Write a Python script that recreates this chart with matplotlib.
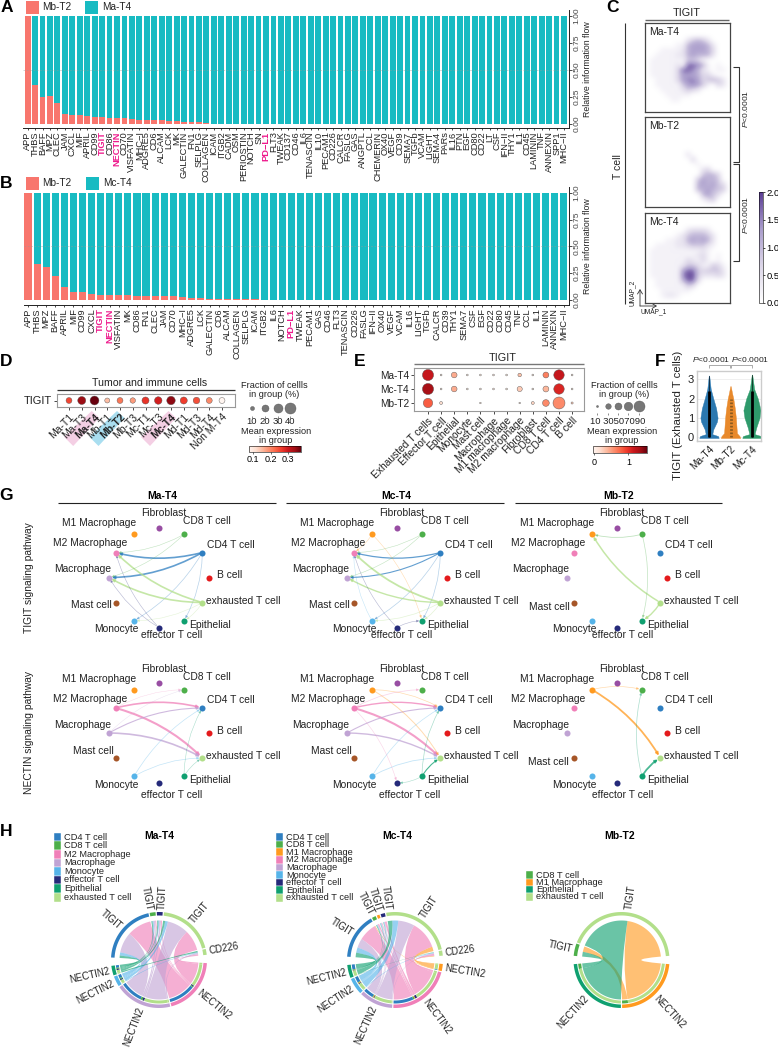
import numpy as np
import matplotlib
matplotlib.use("Agg")
import matplotlib.pyplot as plt
from matplotlib.colors import LinearSegmentedColormap, Normalize
from matplotlib.colorbar import Colorbar
from matplotlib.patches import FancyArrowPatch, PathPatch, Polygon, Rectangle
from matplotlib.path import Path

plt.rcParams['font.family'] = ['Liberation Sans', 'DejaVu Sans']
plt.rcParams['mathtext.fontset'] = 'custom'
plt.rcParams['mathtext.rm'] = 'Liberation Sans'
plt.rcParams['mathtext.it'] = 'Liberation Sans:italic'
plt.rcParams['mathtext.bf'] = 'Liberation Sans:bold'

W, H = 778, 1049

# ---- panel A / B data
a_labels = ['APP', 'THBS', 'BAFF', 'MPZ', 'CLEC', 'JAM', 'CXCL', 'MIF', 'APRIL', 'CD99', 'TIGIT', 'CD86',
            'NECTIN', 'CD70', 'VISFATIN', 'MHC−I', 'ADGRE5', 'CD6', 'ALCAM', 'LCK', 'MK', 'GALECTIN', 'FN1',
            'SELPLG', 'COLLAGEN', 'ICAM', 'ITGB2', 'CADM', 'OSM', 'PERIOSTIN', 'NOTCH', 'SN', 'PD−L1', 'FLT3',
            'TWEAK', 'CD137', 'CD46', 'IL6', 'TENASCIN', 'IL10', 'PECAM1', 'CD226', 'CALCR', 'FASLG', 'GAS',
            'ANGPTL', 'CCL', 'CHEMERIN', 'OX40', 'VEGF', 'CD39', 'SEMA7', 'TGFb', 'VCAM', 'LIGHT', 'SEMA4',
            'PARs', 'IL16', 'PTN', 'EGF', 'CD80', 'CD22', 'LT', 'CSF', 'IFN−II', 'THY1', 'IL1', 'CD45',
            'LAMININ', 'TNF', 'ANNEXIN', 'SPP1', 'MHC−II']
a_mb = [1.0, .36, .25, .26, .19, .09, .085, .08, .075, .065, .063, .06, .06, .058, .045, .04, .037, .035,
        .033, .03, .027, .02, .02, .015, .005, .004, .003, 0, 0, 0, 0, 0, 0, 0, 0, 0, 0, 0, 0, 0, 0, 0, 0,
        0, 0, 0, 0, 0, 0, 0, 0, 0, 0, 0, 0, 0, 0, 0, 0, 0, 0, 0, 0, 0, 0, 0, 0, 0, 0, 0, 0, 0, 0]

b_labels = ['APP', 'THBS', 'MPZ', 'BAFF', 'APRIL', 'MIF', 'CD99', 'CXCL', 'TIGIT', 'NECTIN', 'VISFATIN', 'MK',
            'CD86', 'FN1', 'CLEC', 'JAM', 'CD70', 'MHC−I', 'ADGRE5', 'LCK', 'GALECTIN', 'CD6', 'ALCAM',
            'COLLAGEN', 'SELPLG', 'ICAM', 'ITGB2', 'IL6', 'NOTCH', 'PD−L1', 'TWEAK', 'PECAM1', 'GAS', 'CD46',
            'FLT3', 'TENASCIN', 'CD226', 'FASLG', 'IFN−II', 'OX40', 'VEGF', 'VCAM', 'IL16', 'LIGHT', 'TGFb',
            'CALCR', 'CD39', 'THY1', 'SEMA7', 'CSF', 'EGF', 'CD22', 'CD80', 'CD45', 'TNF', 'CCL', 'IL1',
            'LAMININ', 'ANNEXIN', 'MHC−II']
b_mb = [1.0, .335, .305, .225, .12, .075, .078, .06, .047, .045, .042, .042, .04, .04, .04, .04, .038, .024,
        .022, .018, .013, .012, .012, .008, .007, .006, .004, 0, 0, 0, 0, 0, 0, 0, 0, 0, 0, 0, 0, 0, 0, 0,
        0, 0, 0, 0, 0, 0, 0, 0, 0, 0, 0, 0, 0, 0, 0, 0, 0, 0]

pink_labels = ['TIGIT', 'NECTIN', 'PD−L1']

# ---- panel C expression grids (hand read, 0-9 per cell)
umap_ma = ['00000000000000000', '00000000000000000', '00000000000000000', '00000000245420000',
           '00000011566652000', '00011112566653000', '00111122565552000', '01111111443100000',
           '01111121887510100', '01111138875210110', '01111136665331000', '00111136776345420',
           '00111114676410320', '00011112432000000', '00001111100000000', '00000110000000000',
           '00000000000000000', '00000000000000000']
umap_mb = ['00000000000000000', '00000000000000000', '00000000000000000', '00000000000000000',
           '00000000000000000', '00000000000000000', '00000000000000000', '00000000200000000',
           '00000000030000000', '00000000001000000', '00000000000230000', '00000000000455300',
           '00000000004655400', '00000000005656430', '00000000005565440', '00000000000564300',
           '00000000000134000', '00000000000000000']
umap_mc = ['00000000000000000', '00000000000000000', '00000000000000000', '00000000233320000',
           '00000012455542000', '00001122565652000', '00111122344421000', '01111111111210000',
           '01111111112310100', '01111111321310100', '01111112443114310', '01111116884344420',
           '01111117994222320', '00111115883000000', '00111111430000000', '00011111100000000',
           '00012210000000000', '00000000000000000']

# ---- panel D data
d_groups = ['Ma-T1', 'Ma-T3', 'Ma-T4', 'Mb-T1', 'Mb-T2', 'Mb-T3', 'Mc-T1', 'Mc-T3', 'Mc-T4', 'Md-T1', 'Md-T3',
            'Md-T4', 'Non M-T4']
d_fraction = [17, 26, 30, 13, 17, 15, 22, 24, 28, 22, 20, 17, 17]
d_mean = [.22, .33, .37, .09, .17, .13, .24, .27, .34, .23, .21, .15, .0]

# ---- panel E data
e_cells = ['Exhausted T cells', 'Effector T cell', 'Epithelial', 'Monocyte', 'Mast cell', 'Macrophage',
           'M1 macrophage', 'M2 macrophage', 'Fibroblast', 'CD8 T cell', 'CD4 T cell', 'B cell']
e_groups = ['Ma-T4', 'Mc-T4', 'Mb-T2']
e_fraction = [[92, 3, 40, 3, 3, 3, 3, 20, 3, 42, 85, 3],
              [92, 3, 40, 3, 3, 3, 3, 35, 3, 42, 85, 3],
              [75, 14, 0, 0, 1, 0, 0, 1, 14, 50, 100, 6]]
e_mean = [[1.15, .1, .45, .1, .1, .1, .1, .35, .1, .65, 1.15, .1],
          [1.3, .1, .45, .1, .1, .1, .1, .3, .1, .4, 1.05, .1],
          [.8, .2, 0, 0, .1, 0, 0, .1, .25, .6, .6, .3]]

# ---- panel F violin outlines: value, half width
f_groups = ['Ma-T4', 'Mb-T2', 'Mc-T4']
f_levels = [[-.05, .05, .15, .4, .8, 1.0, 1.5, 2.0, 2.5, 3.2],
            [-.05, .05, .2, .5, 1.0, 1.5, 2.0, 2.3, 2.65],
            [-.05, .05, .15, .5, 1.0, 1.4, 2.0, 2.5, 3.25]]
f_widths = [[.45, .42, .15, .2, .37, .4, .33, .2, .08, .01],
            [.45, .42, .3, .28, .25, .2, .13, .07, .01],
            [.45, .42, .12, .2, .35, .4, .27, .1, .01]]
f_colors = ['#2b78b0', '#e8892b', '#2e9a6b']
f_core_top = [3.2, 0, 3.25]

# ---- cell colours
cell_colors = {'CD4 T cell': '#2f7fc1', 'CD8 T cell': '#4daf4a', 'M1 Macrophage': '#ff9a1f',
               'M2 Macrophage': '#f07fb8', 'Macrophage': '#c0a3d4', 'Monocyte': '#56b4e9',
               'effector T cell': '#252a7a', 'Epithelial': '#0fa070', 'exhausted T cell': '#b2df8a',
               'Fibroblast': '#984ea3', 'Mast cell': '#a65628', 'B cell': '#e41a1c'}

# ---- panel G
node_angle = {'Fibroblast': 90, 'CD8 T cell': 60, 'CD4 T cell': 30, 'B cell': 0, 'exhausted T cell': -30,
              'Epithelial': -60, 'effector T cell': -90, 'Monocyte': -120, 'Mast cell': -150, 'Macrophage': 180,
              'M2 Macrophage': 150, 'M1 Macrophage': 120}
node_label_offset = {'Fibroblast': (5, -64), 'CD8 T cell': (48, -56), 'CD4 T cell': (72, -33), 'B cell': (71, -2),
                     'exhausted T cell': (84, 23), 'Epithelial': (51, 47), 'effector T cell': (13, 58),
                     'Monocyte': (-43, 52), 'Mast cell': (-68, 27), 'Macrophage': (-76, -8),
                     'M2 Macrophage': (-69, -34), 'M1 Macrophage': (-60, -54)}
g_columns = [159, 397, 617]
g_rows = [577.5, 733]
tigit_ma = [('CD4 T cell', 'M2 Macrophage', 1.2), ('CD4 T cell', 'Macrophage', 1.2), ('CD4 T cell', 'Monocyte', .5),
            ('CD4 T cell', 'Epithelial', .5), ('exhausted T cell', 'M2 Macrophage', 1.2),
            ('exhausted T cell', 'Macrophage', 1.2), ('exhausted T cell', 'Monocyte', .4),
            ('exhausted T cell', 'Epithelial', .4), ('CD8 T cell', 'M2 Macrophage', .4),
            ('CD8 T cell', 'Macrophage', .4), ('effector T cell', 'M2 Macrophage', .4),
            ('effector T cell', 'Macrophage', .4)]
tigit_mc = [('CD4 T cell', 'M2 Macrophage', .9), ('CD4 T cell', 'Macrophage', .8), ('CD4 T cell', 'Monocyte', .5),
            ('CD4 T cell', 'Epithelial', .5), ('exhausted T cell', 'M2 Macrophage', 1.3),
            ('exhausted T cell', 'Macrophage', 1.0), ('exhausted T cell', 'Monocyte', .5),
            ('exhausted T cell', 'Epithelial', .5), ('CD8 T cell', 'M2 Macrophage', .4),
            ('CD8 T cell', 'Macrophage', .4), ('M1 Macrophage', 'M2 Macrophage', .4),
            ('M1 Macrophage', 'Epithelial', .4), ('effector T cell', 'M2 Macrophage', .4),
            ('effector T cell', 'Epithelial', .4), ('Monocyte', 'M2 Macrophage', .4)]
tigit_mb = [('exhausted T cell', 'M1 Macrophage', 1.1), ('CD8 T cell', 'M1 Macrophage', .6),
            ('CD8 T cell', 'Epithelial', .5), ('exhausted T cell', 'Epithelial', 1.0)]
nectin_ma = [('M2 Macrophage', 'CD4 T cell', 1.2), ('M2 Macrophage', 'exhausted T cell', 1.5),
             ('Macrophage', 'CD4 T cell', .8), ('Macrophage', 'exhausted T cell', 1.2),
             ('Monocyte', 'CD4 T cell', .5), ('Monocyte', 'exhausted T cell', .5),
             ('Epithelial', 'CD4 T cell', .4), ('Epithelial', 'exhausted T cell', .4),
             ('M2 Macrophage', 'CD8 T cell', .3), ('Macrophage', 'CD8 T cell', .3)]
nectin_mc = [('M2 Macrophage', 'CD4 T cell', 1.0), ('M2 Macrophage', 'exhausted T cell', 1.5),
             ('Macrophage', 'CD4 T cell', .8), ('Macrophage', 'exhausted T cell', 1.0),
             ('Monocyte', 'CD4 T cell', .5), ('Monocyte', 'exhausted T cell', .6),
             ('Epithelial', 'CD4 T cell', .5), ('Epithelial', 'exhausted T cell', .8),
             ('M1 Macrophage', 'CD4 T cell', .5), ('M1 Macrophage', 'exhausted T cell', .7),
             ('M2 Macrophage', 'CD8 T cell', .5), ('M2 Macrophage', 'effector T cell', .4),
             ('Epithelial', 'effector T cell', .4)]
nectin_mb = [('M1 Macrophage', 'exhausted T cell', 1.3), ('M1 Macrophage', 'CD8 T cell', .5),
             ('Epithelial', 'exhausted T cell', 1.3), ('Epithelial', 'CD8 T cell', .5)]

# ---- panel H: sector label, sector cell; links sender -> receiver, weight
ma_sector_labels = ['TIGIT', 'TIGIT', 'TIGIT', 'TIGIT', 'CD226', 'NECTIN2', 'NECTIN2', 'NECTIN2', 'NECTIN2']
ma_sector_cells = ['CD4 T cell', 'CD8 T cell', 'effector T cell', 'exhausted T cell', 'exhausted T cell',
                   'M2 Macrophage', 'Macrophage', 'Monocyte', 'Epithelial']
ma_label_angle = {1: 101, 2: 87}
ma_links = [(5, 0, 35), (5, 1, 1.5), (5, 2, 1.5), (5, 3, 30), (5, 4, 2),
            (6, 0, 30), (6, 1, 2.5), (6, 2, 2.5), (6, 3, 31), (6, 4, 2),
            (7, 0, 4.5), (7, 1, 1.5), (7, 2, 1.5), (7, 3, 4), (7, 4, 1),
            (8, 0, 3.5), (8, 1, 1.5), (8, 2, 1.5), (8, 3, 3), (8, 4, 2)]
ma_legend = ['CD4 T cell', 'CD8 T cell', 'M2 Macrophage', 'Macrophage', 'Monocyte', 'effector T cell', 'Epithelial',
             'exhausted T cell']

mc_sector_labels = ['TIGIT', 'TIGIT', 'TIGIT', 'TIGIT', 'TIGIT', 'CD226', 'NECTIN2', 'NECTIN2', 'NECTIN2', 'NECTIN2',
                    'NECTIN2']
mc_sector_cells = ['CD4 T cell', 'CD8 T cell', 'M1 Macrophage', 'effector T cell', 'exhausted T cell',
                   'exhausted T cell', 'M1 Macrophage', 'M2 Macrophage', 'Macrophage', 'Monocyte', 'Epithelial']
mc_label_angle = {1: 117, 2: 108, 3: 98}
mc_links = [(6, 0, 1), (6, 4, 7), (6, 5, 1),
            (7, 0, 28), (7, 1, 2), (7, 2, 1), (7, 3, 3), (7, 4, 43), (7, 5, 3),
            (8, 0, 14), (8, 1, 1), (8, 2, 1), (8, 3, 1), (8, 4, 25), (8, 5, 1),
            (9, 0, 8), (9, 1, 1), (9, 2, 1), (9, 3, 1), (9, 4, 9), (9, 5, 1),
            (10, 0, 7), (10, 1, 1), (10, 2, .5), (10, 3, .5), (10, 4, 7), (10, 5, .5)]
mc_legend = ['CD4 T cell', 'CD8 T cell', 'M1 Macrophage', 'M2 Macrophage', 'Macrophage', 'Monocyte',
             'effector T cell', 'Epithelial', 'exhausted T cell']

mb_sector_labels = ['TIGIT', 'TIGIT', 'NECTIN2', 'NECTIN2']
mb_sector_cells = ['CD8 T cell', 'exhausted T cell', 'M1 Macrophage', 'Epithelial']
mb_links = [(2, 0, 8), (2, 1, 76), (3, 0, 7), (3, 1, 77)]
mb_legend = ['CD8 T cell', 'M1 Macrophage', 'Epithelial', 'exhausted T cell']

RED = '#f8766d'
TEAL = '#18bbc2'
PINK = '#ee1a8c'
TXT = '#222222'
purple_cmap = LinearSegmentedColormap.from_list('tigit', ['#ffffff', '#dcd6e8', '#a99ccb', '#5b3d94'])


def ax_px(x0, y0, x1, y1, **kw):
    return fig.add_axes([x0 / W, 1 - y1 / H, (x1 - x0) / W, (y1 - y0) / H], **kw)


def plot_flow(x0, y0, x1, y1, y_top, y_zero, first, step, labels, low_values):
    ax = ax_px(x0, y0, x1, y1, facecolor='none')
    pos = np.arange(len(labels))
    low = np.array(low_values)
    ax.bar(pos, low, width=.78, color=RED)
    ax.bar(pos, 1 - low, bottom=low, width=.78, color=TEAL)
    ax.axhline(.5, color='#999999', lw=.6, ls=(0, (2, 2)), alpha=.5)
    unit = y_zero - y_top
    ax.set_ylim((y_zero - y1) / unit, (y_zero - y0) / unit)
    ax.set_xlim((x0 - first) / step, (x1 - first) / step)
    for s in ['left', 'top']:
        ax.spines[s].set_visible(False)
    for s in ['right', 'bottom']:
        ax.spines[s].set_linewidth(.7)
        ax.spines[s].set_color('#222222')
    ax.yaxis.tick_right()
    ax.yaxis.set_label_position('right')
    ax.set_yticks([0, .25, .5, .75, 1])
    ax.set_yticklabels(['0.00', '0.25', '0.50', '0.75', '1.00'], rotation=90, va='center', fontsize=6,
                       color='#444444')
    ax.set_ylabel('Relative information flow', fontsize=6.3, labelpad=2, color=TXT)
    ax.set_xticks(pos)
    ax.set_xticklabels(labels, rotation=90, ha='center', va='top', fontsize=6.7, color=TXT)
    ax.tick_params(axis='x', length=1.5, width=.5, pad=1)
    ax.tick_params(axis='y', length=2, width=.5, pad=1)
    for lab in ax.get_xticklabels():
        if lab.get_text() in pink_labels:
            lab.set_color(PINK)
            lab.set_fontweight('bold')
    return ax


def umap_box(x0, y0, x1, y1, rows, name):
    ax = ax_px(x0, y0, x1, y1)
    grid = np.array([[int(c) for c in r] for r in rows], dtype=float)
    ax.imshow(grid, cmap=purple_cmap, vmin=0, vmax=9.5, aspect='auto', interpolation='bicubic')
    ax.set_xticks([])
    ax.set_yticks([])
    for s in ax.spines.values():
        s.set_linewidth(.9)
        s.set_color('#444444')
    ax.text(.06, .9, name, transform=ax.transAxes, fontsize=7.5, va='center', color=TXT)


def chord(cx, cy, labels, cells, links, start, big_gap_after, label_angle=None, small_gap=1.5, big_gap=10.0):
    R_out, R_ring, R_in, R_inner_out, R_chord = 48, 44.5, 40.5, 43.5, 39.5
    label_angle = label_angle or {}
    n = len(labels)
    sizes = np.zeros(n)
    for s, r, w in links:
        sizes[s] += w
        sizes[r] += w
    gaps = [big_gap if i in big_gap_after else small_gap for i in range(n)]
    scale = (360 - sum(gaps)) / sizes.sum()
    spans = []
    a = start
    for i in range(n):
        spans.append((a, a - sizes[i] * scale))
        a = a - sizes[i] * scale - gaps[i]

    def pt(r, deg):
        t = np.radians(deg)
        return cx + r * np.cos(t), cy - r * np.sin(t)

    def arc(r, a1, a2):
        return [pt(r, d) for d in np.linspace(a1, a2, max(int(abs(a1 - a2)) + 2, 2))]

    def ring(r0, r1, a1, a2, color):
        ov.add_patch(Polygon(arc(r1, a1, a2) + arc(r0, a2, a1), closed=True, fc=color, ec='none', zorder=3))

    # cut each sector into link slots, farthest clockwise partner first
    slots = {}
    for i in range(n):
        mine = [(j, l) for j, l in enumerate(links) if i in l[:2]]
        mine.sort(key=lambda it: -(((it[1][0] if it[1][1] == i else it[1][1]) - i) % n))
        a = spans[i][0]
        for j, l in mine:
            slots[(i, j)] = (a, a - l[2] * scale)
            a -= l[2] * scale

    for j, (s, r, w) in enumerate(links):
        a1, a2 = slots[(s, j)]
        b1, b2 = slots[(r, j)]
        # inner ring on the sender side shows the partner colour
        ring(R_in, R_inner_out, a1, a2, cell_colors[cells[r]])
        p = arc(R_chord, a1, a2)
        q = arc(R_chord, b1, b2)
        verts = p + [(cx, cy), q[0]] + q[1:] + [(cx, cy), p[0]]
        codes = [Path.MOVETO] + [Path.LINETO] * (len(p) - 1) + [Path.CURVE3, Path.CURVE3] + \
            [Path.LINETO] * (len(q) - 1) + [Path.CURVE3, Path.CURVE3]
        ov.add_patch(PathPatch(Path(verts, codes), fc=cell_colors[cells[s]], ec='none', alpha=.62, zorder=2))

    for i in range(n):
        a1, a2 = spans[i]
        ring(R_ring, R_out, a1, a2, cell_colors[cells[i]])
        mid = label_angle.get(i, (a1 + a2) / 2)
        x, y = pt(R_out + 2.5, mid)
        c = np.cos(np.radians(mid))
        rot = mid if c >= 0 else mid + 180
        ov.text(x, y, labels[i], rotation=rot, rotation_mode='anchor', ha='left' if c >= 0 else 'right',
                va='center', fontsize=7, color=TXT)


def network(cx, cy, edges, tweak=None):
    offs = dict(node_label_offset)
    if tweak:
        offs.update(tweak)
    pos = {}
    for name, ang in node_angle.items():
        t = np.radians(ang)
        pos[name] = (cx + 50 * np.cos(t), cy - 50 * np.sin(t))
    for src, dst, lw in edges:
        ov.add_patch(FancyArrowPatch(pos[src], pos[dst], connectionstyle='arc3,rad=-0.13',
                                     arrowstyle='-|>,head_length=.5,head_width=.25', mutation_scale=3,
                                     shrinkA=2, shrinkB=2, lw=lw, color=cell_colors[src],
                                     alpha=.75 if lw > .7 else .35, zorder=2))
    for name, p in pos.items():
        ov.scatter(*p, s=19, color=cell_colors[name], zorder=3, linewidths=0)
        dx, dy = offs[name]
        ov.text(cx + dx, cy + dy, name, ha='center', va='center', fontsize=7.4, color=TXT, zorder=4)


fig = plt.figure(figsize=(W / 100, H / 100), dpi=100)

# overlay in pixel coordinates for all free drawn bits
ov = fig.add_axes([0, 0, 1, 1], zorder=0)
ov.set_xlim(0, W)
ov.set_ylim(H, 0)
ov.axis('off')


def txt(x, y, s, **kw):
    kw.setdefault('ha', 'center')
    kw.setdefault('va', 'center')
    kw.setdefault('color', TXT)
    return ov.text(x, y, s, **kw)


def line(xs, ys, lw=.8, color='#333333', **kw):
    ov.plot(xs, ys, lw=lw, color=color, solid_capstyle='butt', **kw)


for letter, x, y in [('A', 7, 8), ('B', 6, 183), ('C', 613, 8), ('D', 6, 362), ('E', 360, 362), ('F', 660, 361),
                     ('G', 6, 496), ('H', 6, 832)]:
    txt(x, y, letter, fontsize=12.5, fontweight='bold', color='black')

# A, B
for yy, xr, xt, name in [(7, 85, 102, 'Ma-T4'), (183.5, 86, 103, 'Mc-T4')]:
    ov.add_patch(Rectangle((26, yy - 6.5), 13, 13, fc=RED, ec='none'))
    txt(42, yy, 'Mb-T2', ha='left', fontsize=7.2)
    ov.add_patch(Rectangle((xr, yy - 6.5), 13, 13, fc=TEAL, ec='none'))
    txt(xt, yy, name, ha='left', fontsize=7.2)

plot_flow(23, 10, 569, 128, 16, 124, 27.6, 7.45, a_labels, a_mb)
plot_flow(24, 187, 569, 305, 192.7, 300, 28, 9.08, b_labels, b_mb)

# C
txt(687, 13, 'TIGIT', fontsize=7.8)
line([645, 729], [20, 20], lw=1, color='#666666')
line([625, 625], [23, 304], lw=.8)
txt(618, 167, 'T cell', rotation=90, fontsize=7.5)
umap_box(644.5, 23, 729.5, 112, umap_ma, 'Ma-T4')
umap_box(644.5, 117, 729.5, 207, umap_mb, 'Mb-T2')
umap_box(644.5, 213, 729.5, 303, umap_mc, 'Mc-T4')
line([733, 739, 739, 733], [67, 67, 162, 162])
line([733, 739, 739, 733], [164, 164, 261, 261])
txt(746, 109, r'$\it{P}$<0.0001', rotation=90, fontsize=6.1)
txt(746, 215, r'$\it{P}$<0.0001', rotation=90, fontsize=6.1)
for end in [(640, 289), (657, 306)]:
    ov.add_patch(FancyArrowPatch((640, 306), end, arrowstyle='->,head_length=2,head_width=1.2', mutation_scale=1.5,
                                 lw=.6, color='#333333', shrinkA=0, shrinkB=0))
txt(632, 293, 'UMAP_2', rotation=90, fontsize=4.8)
txt(654, 312, 'UMAP_1', fontsize=4.8)
cax = ax_px(759, 192, 763, 303)
cb = Colorbar(cax, cmap=purple_cmap, norm=Normalize(0, 2), orientation='vertical')
cb.set_ticks([0, .5, 1, 1.5, 2])
cb.ax.tick_params(labelsize=6.8, length=1.5, width=.5, pad=1)
cb.outline.set_linewidth(.4)

# D
for px, col in [(91.7, '#f4cfe4'), (117, '#a9def0'), (168.5, '#f4cfe4')]:
    ov.add_patch(Polygon([(px, 411), (px + 7.5, 418), (px - 18.5, 446), (px - 27.5, 437)], closed=True, fc=col, ec='none'))
txt(150, 383, 'Tumor and immune cells', fontsize=7.6)
line([57, 235], [390, 390], lw=.9)
d_ax = ax_px(57, 394, 235, 407, zorder=1, facecolor='none')
d_pos = np.arange(len(d_groups))
reds = plt.cm.Reds
d_sizes = [((2 + .23 * f) * .72) ** 2 for f in d_fraction]
d_ax.scatter(d_pos, np.zeros(len(d_pos)), s=d_sizes, c=d_mean, cmap=reds, vmin=.0, vmax=.37, edgecolors='#555555',
             linewidths=.3)
d_ax.set_xlim((57 - 69) / 12.75, (235 - 69) / 12.75)
d_ax.set_ylim(-1, 1)
d_ax.set_yticks([0])
d_ax.set_yticklabels(['TIGIT'], fontsize=8, color=TXT)
d_ax.set_xticks(d_pos)
d_ax.set_xticklabels(d_groups, rotation=45, ha='right', va='top', rotation_mode='anchor', fontsize=7.5, color=TXT)
d_ax.tick_params(length=2, width=.5, pad=1.5)
for s in d_ax.spines.values():
    s.set_color('#999999')
    s.set_linewidth(.8)
for lab in d_ax.get_xticklabels():
    if lab.get_text() in ['Ma-T4', 'Mb-T2', 'Mc-T4']:
        lab.set_fontweight('bold')

txt(274, 390, 'Fraction of cellls\nin group (%)', fontsize=6.6, linespacing=1.05)
legend_d_x = [252, 265, 278, 290]
legend_d_f = [10, 20, 30, 40]
legend_d_w = [4, 7, 9, 11]
for x, f, w in zip(legend_d_x, legend_d_f, legend_d_w):
    ov.scatter(x, 408, s=(w * .72) ** 2, color='#777777', edgecolors='#555555', linewidths=.3)
    txt(x, 422, str(f), fontsize=6.8)
    line([x, x], [416, 418], lw=.4)
txt(276, 436, 'Mean expression\nin group', fontsize=6.6, linespacing=1.05)
dc = ax_px(249, 446, 301, 452)
cbd = Colorbar(dc, cmap=reds, norm=Normalize(.077, .374), orientation='horizontal')
cbd.set_ticks([.1, .2, .3])
cbd.ax.tick_params(labelsize=6.5, length=1.5, width=.4, pad=1)
cbd.outline.set_linewidth(.4)

# E
txt(503, 358, 'TIGIT', fontsize=7.8)
line([414, 584], [364, 364], lw=1, color='#777777')
e_ax = ax_px(414, 368, 584, 411, zorder=1, facecolor='none')
e_frac = np.array(e_fraction, dtype=float)
e_val = np.array(e_mean)
yy, xx = np.mgrid[0:3, 0:12]
e_sizes = np.where(e_frac > 0, ((1.5 + .105 * e_frac) * .72) ** 2, 0)
e_ax.scatter(xx.ravel(), yy.ravel(), s=e_sizes.ravel(), c=e_val.ravel(), cmap=reds, vmin=0, vmax=1.5,
             edgecolors='#555555', linewidths=.3)
e_ax.set_xlim((414 - 428) / 13.1, (584 - 428) / 13.1)
e_ax.set_ylim((411 - 375) / 14, (368 - 375) / 14)
e_ax.set_yticks(range(3))
e_ax.set_yticklabels(e_groups, fontsize=7.2, color=TXT)
e_ax.set_xticks(range(12))
e_ax.set_xticklabels(e_cells, rotation=45, ha='right', va='top', rotation_mode='anchor', fontsize=7.4, color=TXT)
e_ax.tick_params(length=2, width=.5, pad=1.5)
for s in e_ax.spines.values():
    s.set_color('#999999')
    s.set_linewidth(.8)

txt(624, 390, 'Fraction of cellls\nin group (%)', fontsize=6.6, linespacing=1.05)
legend_e_x = [597, 608, 618, 628, 639]
legend_e_w = [2, 5.5, 7, 8.5, 11]
for x, w in zip(legend_e_x, legend_e_w):
    ov.scatter(x, 406, s=(w * .72) ** 2, color='#777777', edgecolors='#555555', linewidths=.3)
    line([x, x], [413, 415], lw=.4)
txt(618, 422, '10 30507090', fontsize=6.8)
txt(622, 436, 'Mean expression\nin group', fontsize=6.6, linespacing=1.05)
ec = ax_px(593, 446, 647, 453)
cbe = Colorbar(ec, cmap=reds, norm=Normalize(-.03, 1.54), orientation='horizontal')
cbe.set_ticks([0, 1])
cbe.ax.tick_params(labelsize=6.5, length=1.5, width=.4, pad=2)
cbe.outline.set_linewidth(.4)

# F
f_ax = ax_px(697, 371, 761, 441, zorder=1, facecolor='none')
for i in range(3):
    lv = np.array(f_levels[i])
    wd = np.array(f_widths[i])
    f_ax.fill_betweenx(lv, i - wd, i + wd, color=f_colors[i], lw=.3, zorder=2)
    if f_core_top[i] > 0:
        f_ax.plot([i, i], [0, f_core_top[i]], color='black', lw=.4, zorder=3)
        f_ax.plot([i, i], [0, 2.4], color='black', lw=2, solid_capstyle='butt', zorder=3)
    else:
        f_ax.plot([i, i], [0, 2.0], color='#8a5a20', lw=2, ls=(0, (.6, .6)), zorder=3)
f_ax.set_xlim((697 - 709) / 21.5, (761 - 709) / 21.5)
f_ax.set_ylim((437 - 441) / 19.2, (437 - 371) / 19.2)
f_ax.set_yticks([0, 1, 2, 3])
f_ax.set_yticklabels(['0', '1', '2', '3'], fontsize=8, color=TXT)
f_ax.set_xticks(range(3))
f_ax.set_xticklabels(f_groups, rotation=45, ha='right', va='top', rotation_mode='anchor', fontsize=7.2, color=TXT)
f_ax.tick_params(length=0, pad=2)
f_ax.grid(axis='y', color='#eeeeee', lw=.6, zorder=0)
f_ax.set_axisbelow(True)
for s in f_ax.spines.values():
    s.set_color('#cccccc')
    s.set_linewidth(1)
txt(678, 415, 'TIGIT (Exhausted T cells)', rotation=90, fontsize=8.2)
txt(711, 359, r'$\it{P}$<0.0001', fontsize=6.1)
txt(750, 359, r'$\it{P}$<0.0001', fontsize=6.1)
line([709, 709, 730, 730], [368, 364.5, 364.5, 368], lw=.5, color='#888888')
line([731, 731, 752, 752], [368, 364.5, 364.5, 368], lw=.5, color='#888888')

# G
for x, name, x0, x1 in [(162, 'Ma-T4', 58, 276), (396, 'Mc-T4', 286, 504), (619, 'Mb-T2', 515, 722)]:
    txt(x, 496, name, fontsize=7.5, fontweight='bold', color='black')
    line([x0, x1], [503, 503], lw=.8, color='#222222')
txt(29, 578, 'TIGIT signaling pathway', rotation=90, fontsize=7.4)
txt(29, 733, 'NECTIN signaling pathway', rotation=90, fontsize=7.4)
short_eff = {'effector T cell': (5, 58)}
mb_top = {'effector T cell': (6, 58), 'Mast cell': (-68, 30)}
mb_low = {'effector T cell': (6, 62), 'Mast cell': (-69, 29)}
low_eff = {'effector T cell': (13, 62), 'Mast cell': (-66, 18)}
network(g_columns[0], g_rows[0], tigit_ma)
network(g_columns[1], g_rows[0], tigit_mc, short_eff)
network(g_columns[2], g_rows[0], tigit_mb, mb_top)
network(g_columns[0], g_rows[1], nectin_ma, low_eff)
network(g_columns[1], g_rows[1], nectin_mc, low_eff)
network(g_columns[2], g_rows[1], nectin_mb, mb_low)

# H
for x, name in [(159, 'Ma-T4'), (397, 'Mc-T4'), (620, 'Mb-T2')]:
    txt(x, 836, name, fontsize=7.5, fontweight='bold', color='black')
for names, x0, y0, step in [(ma_legend, 54, 837, 8.6), (mc_legend, 276, 837, 7.6), (mb_legend, 526, 875, 7.3)]:
    for i, name in enumerate(names):
        ov.add_patch(Rectangle((x0, y0 + i * step - step / 2), 7.5, step, fc=cell_colors[name], ec='white', lw=.3))
        txt(x0 + 10.5, y0 + i * step, name, ha='left', fontsize=6.7)
chord(159, 960, ma_sector_labels, ma_sector_cells, ma_links, 177, {4, 8}, ma_label_angle)
chord(395, 960, mc_sector_labels, mc_sector_cells, mc_links, 176, {5, 10}, mc_label_angle)
chord(621.5, 960, mb_sector_labels, mb_sector_cells, mb_links, 175, {1, 3})

fig.savefig('out.png', dpi=100)
